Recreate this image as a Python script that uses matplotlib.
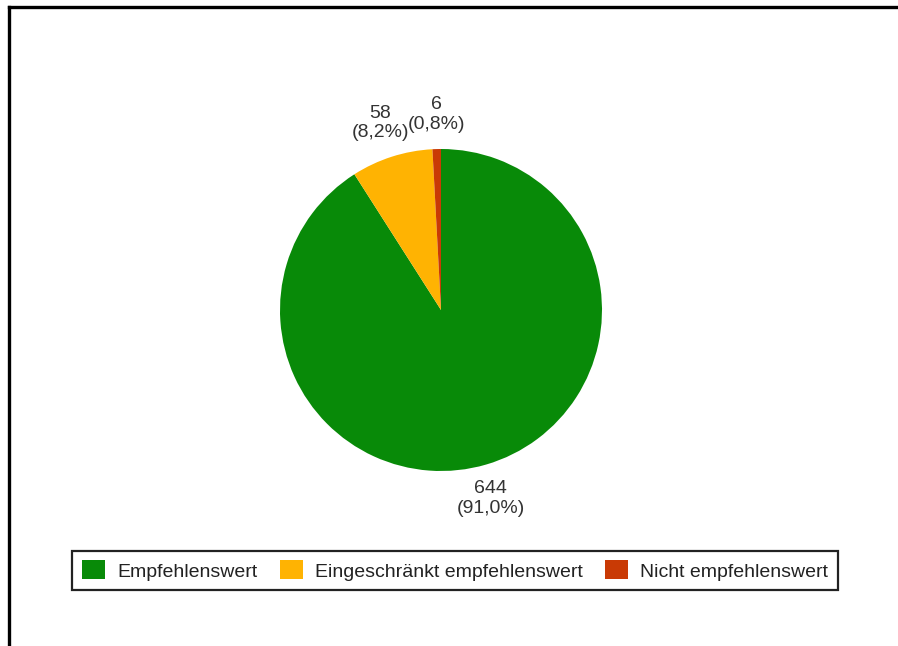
import matplotlib.pyplot as plt
from matplotlib.lines import Line2D

categories = ["Empfehlenswert", "Eingeschränkt empfehlenswert", "Nicht empfehlenswert"]
counts = [644, 58, 6]
colors = ["#088A08", "#FFB302", "#C93A05"]

plt.rcParams['font.family'] = ['Liberation Sans', 'DejaVu Sans']

fig = plt.figure(figsize=(8.98, 6.46), dpi=100)
fig.patch.set_facecolor("white")

# outer frame (only top and left edges fall inside the image)
fig.add_artist(Line2D([8.5 / 898, 1.0], [1 - 7 / 646, 1 - 7 / 646],
                      transform=fig.transFigure, color="black", lw=2.4))
fig.add_artist(Line2D([8.5 / 898, 8.5 / 898], [0.0, 1 - 7 / 646],
                      transform=fig.transFigure, color="black", lw=2.4))

cx, cy, r = 441, 310, 161
ax = fig.add_axes([(cx - r) / 898, (646 - cy - r) / 646, 2 * r / 898, 2 * r / 646])

total = sum(counts)
labels = ["{}\n({}%)".format(c, ("%.1f" % (100 * c / total)).replace(".", ",")) for c in counts]

wedges, texts = ax.pie(counts, colors=colors, startangle=90, counterclock=False,
                       labels=labels, labeldistance=1.1,
                       wedgeprops=dict(linewidth=0),
                       textprops=dict(fontsize=14, color="#333333", linespacing=1.2))
# anchor each label by the edge nearest the pie
for t in texts:
    x, y = t.get_position()
    t.set_horizontalalignment("center")
    t.set_verticalalignment("bottom" if y > 0 else "top")
    t.set_multialignment("center")
    if -0.6 < x < -0.2:
        # small nudge so neighbouring labels near the top do not collide
        t.set_position((x - 0.04, y))
ax.set_xlim(-1, 1)
ax.set_ylim(-1, 1)
ax.set_aspect("equal")
ax.axis("off")

leg = fig.legend(wedges, categories, loc="center", ncol=3,
                 bbox_to_anchor=(455 / 898, 1 - 570.5 / 646),
                 fancybox=False, edgecolor="#222222", framealpha=1,
                 fontsize=14, handlelength=1.19, handleheight=1.13,
                 handletextpad=0.62, columnspacing=1.15, borderpad=0.5)
leg.get_frame().set_linewidth(1.6)
for txt in leg.get_texts():
    txt.set_color("#222222")

fig.savefig("out.png", dpi=100)
